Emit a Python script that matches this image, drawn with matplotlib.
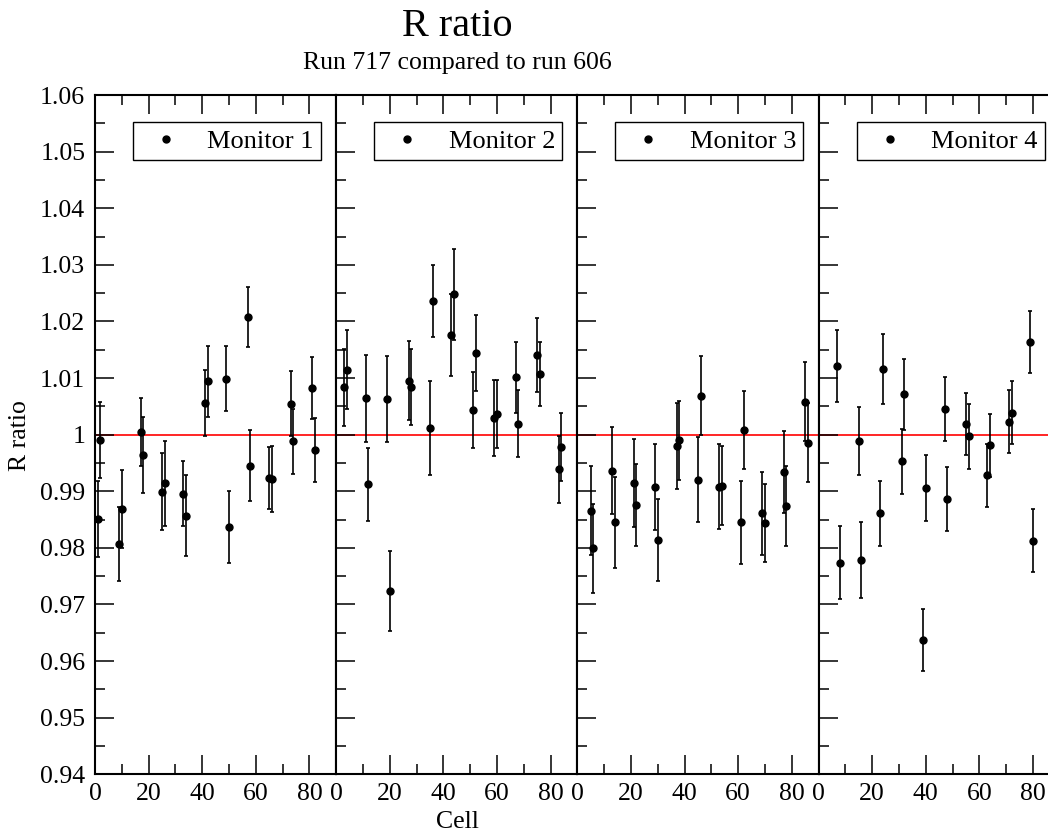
import numpy as np
import matplotlib
matplotlib.use('Agg')
import matplotlib.pyplot as plt
from matplotlib.lines import Line2D
from matplotlib.ticker import MultipleLocator, FormatStrFormatter

# R ratio per cell for the 4 monitors (run 717 vs run 606)
cells1 = [1, 2, 9, 10, 17, 18, 25, 26, 33, 34, 41, 42, 49, 50, 57, 58, 65, 66, 73, 74, 81, 82]
ratio1 = [0.9851, 0.9990, 0.9807, 0.9868, 1.0005, 0.9964, 0.9899, 0.9914, 0.9896, 0.9857, 1.0056,
          1.0094, 1.0099, 0.9837, 1.0208, 0.9945, 0.9924, 0.9922, 1.0055, 0.9988, 1.0082, 0.9973]
err1 = [0.0068, 0.0067, 0.0065, 0.0069, 0.0060, 0.0067, 0.0068, 0.0075, 0.0057, 0.0072, 0.0059,
        0.0062, 0.0058, 0.0063, 0.0053, 0.0063, 0.0055, 0.0058, 0.0057, 0.0058, 0.0055, 0.0057]

cells2 = [3, 4, 11, 12, 19, 20, 27, 28, 35, 36, 43, 44, 51, 52, 59, 60, 67, 68, 75, 76, 83, 84]
ratio2 = [1.0084, 1.0115, 1.0064, 0.9912, 1.0063, 0.9724, 1.0095, 1.0084, 1.0011, 1.0236, 1.0176,
          1.0248, 1.0043, 1.0144, 1.0029, 1.0036, 1.0101, 1.0019, 1.0141, 1.0107, 0.9939, 0.9978]
err2 = [0.0068, 0.0070, 0.0077, 0.0064, 0.0076, 0.0071, 0.0070, 0.0067, 0.0083, 0.0063, 0.0072,
        0.0080, 0.0067, 0.0067, 0.0067, 0.0060, 0.0062, 0.0059, 0.0065, 0.0057, 0.0059, 0.0060]

cells3 = [5, 6, 13, 14, 21, 22, 29, 30, 37, 38, 45, 46, 53, 54, 61, 62, 69, 70, 77, 78, 85, 86]
ratio3 = [0.9866, 0.9799, 0.9936, 0.9845, 0.9915, 0.9876, 0.9907, 0.9814, 0.9980, 0.9990, 0.9920,
          1.0069, 0.9908, 0.9910, 0.9845, 1.0008, 0.9861, 0.9844, 0.9934, 0.9874, 1.0058, 0.9986]
err3 = [0.0079, 0.0078, 0.0077, 0.0080, 0.0078, 0.0072, 0.0076, 0.0072, 0.0076, 0.0070, 0.0075,
        0.0070, 0.0075, 0.0070, 0.0073, 0.0069, 0.0073, 0.0069, 0.0072, 0.0070, 0.0070, 0.0070]

cells4 = [7, 8, 15, 16, 23, 24, 31, 32, 39, 40, 47, 48, 55, 56, 63, 64, 71, 72, 79, 80]
ratio4 = [1.0121, 0.9774, 0.9989, 0.9778, 0.9861, 1.0116, 0.9953, 1.0071, 0.9637, 0.9906,
          1.0045, 0.9886, 1.0019, 0.9997, 0.9928, 0.9981, 1.0023, 1.0039, 1.0164, 0.9813]
err4 = [0.0063, 0.0065, 0.0060, 0.0067, 0.0058, 0.0062, 0.0057, 0.0062, 0.0055, 0.0058,
        0.0056, 0.0057, 0.0055, 0.0058, 0.0055, 0.0056, 0.0055, 0.0056, 0.0055, 0.0056]

monitors = ['Monitor 1', 'Monitor 2', 'Monitor 3', 'Monitor 4']
all_cells = [cells1, cells2, cells3, cells4]
all_ratio = [ratio1, ratio2, ratio3, ratio4]
all_err = [err1, err2, err3, err4]

plt.rcParams['font.family'] = ['Liberation Serif', 'DejaVu Serif']

W, H = 1048, 834
fig = plt.figure(figsize=(W / 100, H / 100), dpi=100)

# panel geometry in pixels (last panel runs past the right edge, like the original)
x0, pw = 95.0, 241.2
top, bot = 95.0, 774.3

for i in range(4):
    ax = fig.add_axes([(x0 + i * pw) / W, (H - bot) / H, pw / W, (bot - top) / H])
    ax.axhline(1.0, color='red', lw=1.2, zorder=1)
    ax.errorbar(all_cells[i], all_ratio[i], yerr=all_err[i], fmt='o', color='black',
                ms=5, elinewidth=1.2, capsize=1.6, capthick=1.2, zorder=3)
    ax.set_xlim(0, 90)
    ax.set_ylim(0.94, 1.06)
    ax.xaxis.set_major_locator(MultipleLocator(20))
    ax.xaxis.set_minor_locator(MultipleLocator(10))
    ax.yaxis.set_major_locator(MultipleLocator(0.01))
    ax.yaxis.set_minor_locator(MultipleLocator(0.005))
    ax.yaxis.set_major_formatter(FormatStrFormatter('%g'))
    ax.tick_params(which='both', direction='in', top=True, right=False, width=1.1)
    ax.tick_params(which='major', length=13.5, labelsize=18.5, pad=6)
    ax.tick_params(which='minor', length=7)
    ax.tick_params(axis='y', which='major', pad=7)
    if i > 0:
        ax.tick_params(axis='y', labelleft=False)
    for s in ax.spines.values():
        s.set_linewidth(1.5)
    # legend shows only the dot
    handle = Line2D([], [], ls='none', marker='o', color='black', ms=5)
    leg = ax.legend([handle], [monitors[i]], loc='upper right', bbox_to_anchor=(0.937, 0.96),
                    borderaxespad=0, fontsize=19, fancybox=False, framealpha=1,
                    edgecolor='black', borderpad=0.27, handlelength=1.95, handletextpad=0.6)
    leg.get_frame().set_linewidth(1.0)

# titles and axis labels
fig.text(457 / W, 1 - 36 / H, 'R ratio', ha='center', va='baseline', fontsize=29)
fig.text(457 / W, 1 - 69.3 / H, 'Run 717 compared to run 606', ha='center', va='baseline', fontsize=18.5)
fig.text(457 / W, 1 - 822 / H, 'Cell', ha='center', va='center', fontsize=18.5)
fig.text(20 / W, 1 - 436 / H, 'R ratio', ha='center', va='center', rotation=90, fontsize=18.5)

fig.savefig('out.png', dpi=100)
